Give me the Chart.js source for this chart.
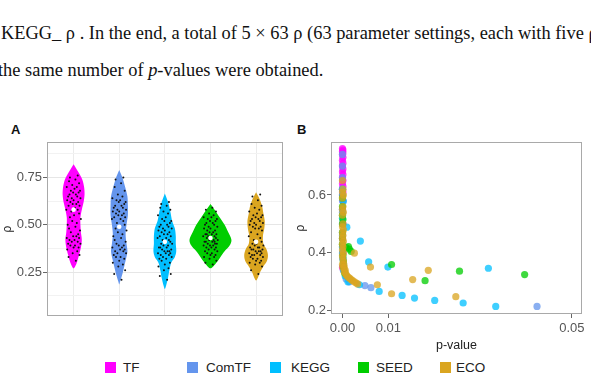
<!DOCTYPE html>
<html>
<head>
<meta charset="utf-8">
<script src="https://cdn.jsdelivr.net/npm/chart.js@4.4.0/dist/chart.umd.min.js"></script>
<style>
  body { margin: 0; width: 591px; height: 387px; background: #fff; position: relative; overflow: hidden;
         font-family: "Liberation Sans", Arial, sans-serif; }
  .txt { position: absolute; white-space: nowrap; font-family: "Liberation Serif", "Times New Roman", serif;
         font-size: 18.4px; line-height: 18.4px; color: #111; }
  .panel { position: absolute; top: 123px; font-weight: bold; font-size: 13px; line-height: 13px; color: #111; }
  #wrapA { position: absolute; left: 0; top: 110px; width: 290px; height: 215px; }
  #wrapB { position: absolute; left: 290px; top: 110px; width: 301px; height: 250px; }
  .sq { position: absolute; top: 362px; width: 11px; height: 11px; }
  .lab { position: absolute; top: 361px; font-size: 13.5px; line-height: 13px; color: #222; }
</style>
</head>
<body>
<div class="txt" style="left:2px; top:-21px">values computed against each gold standard, giving TF_ ρ, ComTF_ ρ, SEED_ ρ, ECO_ ρ and</div>
<div class="txt" style="left:1px; top:23.8px">KEGG_ ρ . In the end, a total of 5 × 63 ρ (63 parameter settings, each with five ρ</div>
<div class="txt" style="left:-2px; top:60.8px">the same number of <i>p</i>-values were obtained.</div>
<div class="panel" style="left:11px">A</div>
<div class="panel" style="left:297px">B</div>
<div id="wrapA"><canvas id="chartA"></canvas></div>
<div id="wrapB"><canvas id="chartB"></canvas></div>
<div id="legend"></div>
<script>
const groups = ["TF", "ComTF", "KEGG", "SEED", "ECO"];
const colors = ["#FF00FF", "#6495ED", "#00BFFF", "#00CD00", "#DAA520"];

// panel A: the 63 rho values of each group
const rhoTF = [0.31,0.33,0.34,0.35,0.36,0.37,0.38,0.38,0.39,0.39,0.40,0.40,0.41,0.41,0.42,0.42,0.43,0.43,0.44,0.44,0.45,0.46,0.47,0.48,0.49,0.50,0.51,0.52,0.53,0.54,0.55,0.56,0.57,0.58,0.58,0.59,0.60,0.60,0.61,0.61,0.62,0.62,0.63,0.63,0.64,0.64,0.65,0.65,0.66,0.66,0.67,0.67,0.68,0.68,0.69,0.70,0.70,0.71,0.72,0.73,0.74,0.75,0.76];
const rhoComTF = [0.21,0.24,0.26,0.28,0.29,0.30,0.31,0.32,0.33,0.33,0.34,0.35,0.35,0.36,0.36,0.37,0.37,0.38,0.38,0.39,0.39,0.40,0.41,0.42,0.43,0.44,0.45,0.46,0.47,0.48,0.49,0.50,0.51,0.52,0.53,0.53,0.54,0.54,0.55,0.55,0.56,0.56,0.57,0.57,0.58,0.58,0.59,0.59,0.60,0.60,0.61,0.62,0.62,0.63,0.63,0.64,0.65,0.66,0.68,0.70,0.72,0.74,0.75];
const rhoKEGG = [0.21,0.23,0.24,0.26,0.27,0.28,0.29,0.30,0.31,0.32,0.32,0.33,0.33,0.34,0.34,0.35,0.35,0.35,0.36,0.36,0.36,0.37,0.37,0.38,0.38,0.38,0.39,0.39,0.40,0.40,0.41,0.41,0.42,0.42,0.43,0.43,0.44,0.44,0.45,0.45,0.46,0.46,0.47,0.47,0.48,0.48,0.49,0.49,0.50,0.50,0.51,0.52,0.52,0.53,0.54,0.55,0.56,0.57,0.58,0.59,0.60,0.61,0.62];
const rhoSEED = [0.29,0.30,0.31,0.32,0.33,0.33,0.34,0.34,0.35,0.35,0.36,0.36,0.37,0.37,0.38,0.38,0.38,0.39,0.39,0.39,0.40,0.40,0.40,0.41,0.41,0.41,0.42,0.42,0.42,0.43,0.43,0.43,0.44,0.44,0.44,0.45,0.45,0.45,0.46,0.46,0.47,0.47,0.48,0.48,0.49,0.49,0.50,0.50,0.51,0.51,0.52,0.52,0.53,0.53,0.54,0.54,0.55,0.56,0.57,0.58,0.59,0.45,0.41];
const rhoECO = [0.24,0.26,0.28,0.29,0.30,0.30,0.31,0.31,0.32,0.32,0.33,0.33,0.34,0.34,0.34,0.35,0.35,0.35,0.36,0.36,0.36,0.37,0.37,0.37,0.38,0.38,0.38,0.39,0.39,0.40,0.40,0.41,0.42,0.43,0.44,0.45,0.46,0.47,0.48,0.48,0.49,0.49,0.50,0.50,0.51,0.51,0.52,0.52,0.53,0.53,0.54,0.54,0.55,0.55,0.56,0.57,0.58,0.59,0.60,0.61,0.63,0.65,0.66];
const rhoA = [rhoTF, rhoComTF, rhoKEGG, rhoSEED, rhoECO];
// horizontal jitter of the dots (category units)
const jitter = [0.05,-0.11,0.13,-0.02,0.08,-0.14,0.00,0.11,-0.07,0.03,-0.12,0.15,-0.04,0.09,-0.09,0.02,0.12,-0.15,0.06,-0.01,0.10,-0.06,0.14,-0.10,0.04,-0.13,0.07,-0.03,0.16,-0.08,0.01,0.12,-0.05,0.09,-0.16,0.03,-0.11,0.13,-0.02,0.06,-0.07,0.10,-0.14,0.00,0.15,-0.04,0.08,-0.12,0.05,-0.09,0.11,-0.01,0.14,-0.06,0.02,-0.15,0.07,-0.03,0.12,-0.10,0.04,-0.08,0.09];
const medians = [0.58, 0.49, 0.41, 0.43, 0.41];

// violin outlines: rho levels (top to bottom) and half widths (category units)
const violinLevels = [
  [0.82,0.78,0.74,0.70,0.66,0.62,0.58,0.54,0.50,0.46,0.42,0.38,0.34,0.30,0.27],
  [0.79,0.75,0.70,0.65,0.60,0.55,0.50,0.45,0.40,0.36,0.32,0.28,0.24,0.20,0.185],
  [0.665,0.62,0.57,0.52,0.48,0.44,0.40,0.36,0.33,0.30,0.26,0.22,0.18,0.16],
  [0.61,0.58,0.54,0.50,0.46,0.42,0.39,0.36,0.33,0.30,0.27],
  [0.672,0.64,0.60,0.56,0.52,0.48,0.44,0.40,0.37,0.34,0.31,0.28,0.25,0.22,0.205]
];
const violinWidths = [
  [0,0.10,0.19,0.23,0.24,0.22,0.18,0.15,0.15,0.16,0.18,0.16,0.12,0.07,0],
  [0,0.07,0.13,0.18,0.19,0.19,0.16,0.14,0.16,0.18,0.15,0.11,0.07,0.02,0],
  [0,0.07,0.12,0.16,0.22,0.24,0.24,0.25,0.22,0.14,0.10,0.07,0.03,0],
  [0,0.09,0.20,0.31,0.39,0.46,0.42,0.31,0.22,0.13,0],
  [0,0.07,0.13,0.16,0.19,0.18,0.15,0.16,0.23,0.26,0.24,0.16,0.09,0.04,0]
];
const yGridA = [0.125, 0.25, 0.375, 0.5, 0.625, 0.75, 0.875];
const yLabelsA = [0.25, 0.5, 0.75];

// panel B: p-value against rho
const pTF = [0,0.0001,0,0.0001,0,0.0001,0,0.0001,0,0.0001,0,0.0001,0,0.0001,0,0.0001,0,0.0001,0,0.0001,0,0.0001,0,0.0001,0];
const rTF = [0.76,0.755,0.75,0.745,0.74,0.73,0.72,0.71,0.70,0.69,0.68,0.67,0.66,0.65,0.64,0.63,0.62,0.61,0.60,0.58,0.55,0.50,0.45,0.40,0.35];
const pComTF = [0,0,0,0,0,0,0,0,0,0.0001,0.0002,0.0008,0.0015,0.0049,0.0062,0.0424];
const rComTF = [0.74,0.70,0.66,0.62,0.58,0.54,0.50,0.46,0.42,0.38,0.34,0.31,0.30,0.287,0.280,0.215];
const pKEGG = [0,0,0.0002,0,0,0.00095,0,0.0039,0,0,0.0001,0.0057,0.0002,0.0099,0.0318,0.0003,0.0006,0.0012,0.0037,0.0080,0.0130,0.0157,0.0201,0.0263,0.0334];
const rKEGG = [0.62,0.60,0.578,0.55,0.52,0.489,0.47,0.441,0.42,0.40,0.38,0.369,0.36,0.351,0.347,0.34,0.32,0.30,0.290,0.267,0.253,0.244,0.236,0.227,0.215];
const pSEED = [0,0,0,0.0001,0,0,0,0,0.0013,0.0008,0.0015,0.0019,0.0001,0.0002,0.0107,0.0002,0.0255,0.0005,0.0397,0.0180];
const rSEED = [0.59,0.56,0.53,0.515,0.50,0.47,0.45,0.43,0.422,0.418,0.413,0.405,0.39,0.37,0.36,0.352,0.337,0.33,0.325,0.304];
const pECO = [0,0.0001,0,0.0002,0,0.0001,0,0.0002,0,0.0001,0,0.0002,0,0.0001,0,0.0002,0,0.0001,0,0.0002,0,0.0001,0.0002,0,0.0003,0.0001,0.0004,0.0006,
  0.0004,0.0006,0.0008,0.0010,0.0013,0.0016,0.0019,0.0022,0.0026,0.0030,0.0033,
  0.0026,0.0061,0.0076,0.0107,0.0153,0.0187,0.0247];
const rECO = [0.65,0.62,0.61,0.60,0.59,0.56,0.55,0.54,0.53,0.50,0.49,0.48,0.47,0.46,0.45,0.44,0.43,0.42,0.41,0.40,0.39,0.38,0.37,0.36,0.36,0.35,0.35,0.34,
  0.335,0.33,0.325,0.32,0.316,0.312,0.308,0.304,0.30,0.296,0.293,
  0.399,0.351,0.290,0.259,0.308,0.340,0.249];
const pB = [pTF, pComTF, pKEGG, pSEED, pECO];
const rB = [rTF, rComTF, rKEGG, rSEED, rECO];
const pTicks = [0, 0.01, 0.05];
const rTicksB = [0.2, 0.4, 0.6];

Chart.defaults.font.family = '"Liberation Sans", Arial, sans-serif';
Chart.defaults.animation = false;

const panelBorder = {
  id: "panelBorder",
  afterDraw(chart) {
    const { ctx, chartArea: a } = chart;
    ctx.save();
    ctx.strokeStyle = "#a9a9a9";
    ctx.lineWidth = 1;
    ctx.strokeRect(Math.round(a.left) + 0.5, Math.round(a.top) + 0.5, Math.round(a.width) - 1, Math.round(a.height) - 1);
    ctx.restore();
  },
};

function violinPoints(i) {
  const c = i + 1, lv = violinLevels[i], w = violinWidths[i];
  const pts = [];
  for (let k = 0; k < lv.length; k++) pts.push({ x: c + w[k], y: lv[k] });
  for (let k = lv.length - 2; k > 0; k--) pts.push({ x: c - w[k], y: lv[k] });
  return pts;
}

const dataA = [];
groups.forEach((g, i) => {
  dataA.push({
    type: "line", label: g, data: violinPoints(i), fill: "shape",
    backgroundColor: colors[i], borderColor: "rgba(0,0,0,0)", borderWidth: 0,
    pointRadius: 0, tension: 0.3, order: 3,
  });
  dataA.push({
    label: g + " dots", data: rhoA[i].map((v, k) => ({ x: i + 1 + jitter[k], y: v })),
    backgroundColor: "#111", borderWidth: 0, pointRadius: 1.0, order: 2,
  });
});
dataA.push({
  label: "median", data: medians.map((v, i) => ({ x: i + 1, y: v })),
  backgroundColor: "#fff", borderWidth: 0, pointRadius: 2.3, order: 1,
});

new Chart(document.getElementById("chartA"), {
  type: "scatter",
  data: { datasets: dataA },
  plugins: [panelBorder],
  options: {
    responsive: true, maintainAspectRatio: false,
    layout: { padding: { top: 32, right: 7, left: 0, bottom: 0 } },
    plugins: { legend: { display: false }, tooltip: { enabled: false } },
    scales: {
      x: {
        type: "linear", min: 0.417, max: 5.59,
        afterBuildTicks: (s) => { s.ticks = groups.map((g, i) => ({ value: i + 1 })); },
        afterFit: (s) => { s.height = 6; },
        ticks: { display: false },
        grid: { color: "#ebebeb", drawTicks: false },
        border: { display: false },
      },
      y: {
        min: 0.017, max: 0.9375,
        afterBuildTicks: (s) => { s.ticks = yGridA.map((v) => ({ value: v })); },
        afterFit: (s) => { s.width = 47; },
        ticks: {
          autoSkip: false, padding: 1, color: "#555", font: { size: 13 },
          callback: (v) => (yLabelsA.includes(v) ? v.toFixed(2) : ""),
        },
        grid: {
          tickLength: 4,
          color: (c) => (yLabelsA.includes(c.tick.value) ? "#e6e6e6" : "#f2f2f2"),
          tickColor: (c) => (yLabelsA.includes(c.tick.value) ? "#666" : "rgba(0,0,0,0)"),
        },
        border: { display: false },
        title: { display: true, text: "ρ", color: "#222", font: { size: 12 }, padding: { top: 0, bottom: 0 } },
      },
    },
  },
});

const dataB = groups.map((g, i) => ({
  label: g, data: pB[i].map((p, k) => ({ x: p, y: rB[i][k] })),
  backgroundColor: colors[i] + "C0", borderWidth: 0, pointRadius: 3.6, order: 5 - i,
}));

new Chart(document.getElementById("chartB"), {
  type: "scatter",
  data: { datasets: dataB },
  plugins: [panelBorder],
  options: {
    responsive: true, maintainAspectRatio: false,
    layout: { padding: { top: 32, right: 9, left: 0, bottom: 0 } },
    plugins: { legend: { display: false }, tooltip: { enabled: false } },
    scales: {
      x: {
        type: "linear", min: -0.0025, max: 0.0522,
        afterBuildTicks: (s) => { s.ticks = pTicks.map((v) => ({ value: v })); },
        afterFit: (s) => { s.height = 46; },
        ticks: { autoSkip: false, maxRotation: 0, padding: 3, color: "#555", font: { size: 13 },
                 callback: (v) => v.toFixed(2) },
        grid: { drawOnChartArea: false, tickLength: 4, tickColor: "#666" },
        border: { display: false },
        title: { display: true, text: "p-value", color: "#222", font: { size: 12.5 }, padding: { top: 0, bottom: 7 } },
      },
      y: {
        min: 0.189, max: 0.783,
        afterBuildTicks: (s) => { s.ticks = rTicksB.map((v) => ({ value: v })); },
        afterFit: (s) => { s.width = 41; },
        ticks: { autoSkip: false, padding: 1, color: "#555", font: { size: 13 },
                 callback: (v) => v.toFixed(1) },
        grid: { drawOnChartArea: false, tickLength: 4, tickColor: "#666" },
        border: { display: false },
        title: { display: true, text: "ρ", color: "#222", font: { size: 12 }, padding: { top: 3, bottom: 0 } },
      },
    },
  },
});

// shared legend under both panels
const legSquareX = [105, 187, 270, 358, 440];
const legLabelX = [123, 206, 291, 376, 456];
const legend = document.getElementById("legend");
groups.forEach((g, i) => {
  const sq = document.createElement("div");
  sq.className = "sq";
  sq.style.left = legSquareX[i] + "px";
  sq.style.background = colors[i];
  legend.appendChild(sq);
  const lab = document.createElement("div");
  lab.className = "lab";
  lab.style.left = legLabelX[i] + "px";
  lab.textContent = g;
  legend.appendChild(lab);
});
</script>
</body>
</html>
